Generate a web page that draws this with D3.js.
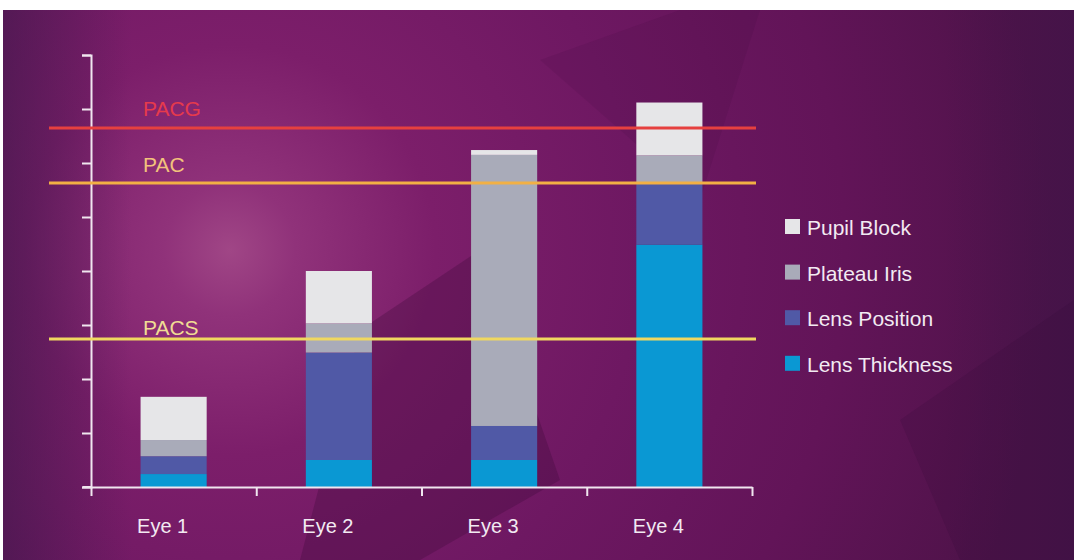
<!DOCTYPE html>
<html>
<head>
<meta charset="utf-8">
<script src="https://cdn.jsdelivr.net/npm/d3@7"></script>
<style>
  html, body { margin: 0; padding: 0; background: #ffffff; }
  svg { display: block; font-family: "Liberation Sans", Arial, sans-serif; }
</style>
</head>
<body>
<svg id="chart" width="1074" height="560"></svg>
<script>
// ---- data ----
const categories = ["Eye 1", "Eye 2", "Eye 3", "Eye 4"];
const seriesNames = ["Lens Thickness", "Lens Position", "Plateau Iris", "Pupil Block"];
const lensThickness = [0.24, 0.50, 0.50, 4.49];
const lensPosition  = [0.33, 1.99, 0.63, 1.14];
const plateauIris   = [0.30, 0.54, 5.02, 0.51];
const pupilBlock    = [0.80, 0.97, 0.09, 0.98];
const refNames  = ["PACG", "PAC", "PACS"];
const refValues = [6.65, 5.63, 2.74];
const yTicks = [0, 1, 2, 3, 4, 5, 6, 7, 8];
const legendOrder = ["Pupil Block", "Plateau Iris", "Lens Position", "Lens Thickness"];

// ---- styles ----
const colors = {
  "Lens Thickness": "#0a98d3",
  "Lens Position": "#5059a6",
  "Plateau Iris": "#a9abb9",
  "Pupil Block": "#e6e6e8"
};
const refLineColors = ["#e6403f", "#f2b044", "#f0d860"];
const refTextColors = ["#e63a4c", "#f2c27c", "#f0dc94"];
const refTextOffsets = [12, 11, 4];
const axisColor = "#f0e6ef";

const svg = d3.select("#chart");
const W = 1074, H = 560;

// ---- background ----
const defs = svg.append("defs");
const rg = defs.append("radialGradient").attr("id", "bgRad")
  .attr("gradientUnits", "userSpaceOnUse")
  .attr("cx", 230).attr("cy", 250).attr("r", 820);
[[0, "#a04686"], [0.08, "#90327a"], [0.25, "#7c1e6a"], [0.5, "#6e1862"], [0.75, "#621458"], [1, "#4e1349"]]
  .forEach(([o, c]) => rg.append("stop").attr("offset", o).attr("stop-color", c));
const lg = defs.append("linearGradient").attr("id", "bgLin")
  .attr("x1", 0).attr("x2", 1).attr("y1", 0).attr("y2", 0);
[[0, "#3a1848", 0.55], [0.12, "#3a1848", 0.0], [0.88, "#3a1448", 0.0], [1, "#3a1448", 0.45]]
  .forEach(([o, c, a]) => lg.append("stop").attr("offset", o).attr("stop-color", c).attr("stop-opacity", a));

const bg = svg.append("g");
bg.append("rect").attr("x", 3).attr("y", 10).attr("width", W - 3).attr("height", H - 10).attr("fill", "url(#bgRad)");
bg.append("rect").attr("x", 3).attr("y", 10).attr("width", W - 3).attr("height", H - 10).attr("fill", "url(#bgLin)");
// faint geometric facets
const facets = [
  {pts: [[360, 330], [480, 250], [560, 480], [420, 560], [300, 560]], c: "#3a0a38", o: 0.3},
  {pts: [[540, 60], [680, 10], [760, 10], [700, 200]], c: "#3a0a38", o: 0.12},
  {pts: [[900, 420], [1074, 300], [1074, 560], [960, 560]], c: "#300a3a", o: 0.18}
];
bg.selectAll("polygon").data(facets).join("polygon")
  .attr("points", d => d.pts.map(p => p.join(",")).join(" "))
  .attr("fill", d => d.c).attr("opacity", d => d.o);

// ---- scales ----
const x = d3.scaleBand().domain(categories).range([91, 752]).paddingInner(0.6).paddingOuter(0.3);
const xAxisScale = d3.scaleLinear().domain([0, categories.length]).range([91, 752]);
const y = d3.scaleLinear().domain([0, 8]).range([487, 55]);

// ---- stacked bars ----
const rows = categories.map((c, i) => ({
  cat: c,
  "Lens Thickness": lensThickness[i],
  "Lens Position": lensPosition[i],
  "Plateau Iris": plateauIris[i],
  "Pupil Block": pupilBlock[i]
}));
const stacked = d3.stack().keys(seriesNames)(rows);
svg.append("g").selectAll("g").data(stacked).join("g")
  .attr("fill", d => colors[d.key])
  .selectAll("rect").data(d => d).join("rect")
  .attr("x", d => x(d.data.cat))
  .attr("width", x.bandwidth())
  .attr("y", d => y(d[1]))
  .attr("height", d => y(d[0]) - y(d[1]));

// ---- axes ----
const yAxis = svg.append("g").attr("transform", "translate(91,0)")
  .call(d3.axisLeft(y).tickValues(yTicks).tickSize(9).tickSizeOuter(9).tickFormat(""));
const xAxis = svg.append("g").attr("transform", "translate(0,487)")
  .call(d3.axisBottom(xAxisScale).tickValues(d3.range(categories.length + 1)).tickSize(9).tickSizeOuter(0).tickFormat(""));
[yAxis, xAxis].forEach(a => {
  a.selectAll("path, line").attr("stroke", axisColor).attr("stroke-width", 2);
});
xAxis.append("line").attr("x1", 83).attr("x2", 91).attr("y1", 0).attr("y2", 0)
  .attr("stroke", axisColor).attr("stroke-width", 2);

// category labels
svg.append("g").selectAll("text").data(categories).join("text")
  .attr("x", d => x(d) + x.bandwidth() / 2 - 11)
  .attr("y", 533)
  .attr("text-anchor", "middle")
  .attr("fill", "#f2eaf2")
  .attr("font-size", 20)
  .text(d => d);

// ---- reference lines ----
const refs = refNames.map((n, i) => ({name: n, v: refValues[i], i}));
const rl = svg.append("g");
rl.selectAll("line").data(refs).join("line")
  .attr("x1", 49).attr("x2", 756)
  .attr("y1", d => y(d.v)).attr("y2", d => y(d.v))
  .attr("stroke", d => refLineColors[d.i]).attr("stroke-width", 3);
rl.selectAll("text").data(refs).join("text")
  .attr("x", 143)
  .attr("y", d => y(d.v) - refTextOffsets[d.i])
  .attr("fill", d => refTextColors[d.i])
  .attr("font-size", 21)
  .text(d => d.name);

// ---- legend ----
const lgd = svg.append("g").selectAll("g").data(legendOrder).join("g")
  .attr("transform", (d, i) => `translate(785,${235 + i * 45.6})`);
lgd.append("rect").attr("x", 0).attr("y", -16).attr("width", 15).attr("height", 15)
  .attr("fill", d => colors[d]);
lgd.append("text").attr("x", 22).attr("y", 0)
  .attr("fill", "#f2eaf2").attr("font-size", 21).text(d => d);
</script>
</body>
</html>
